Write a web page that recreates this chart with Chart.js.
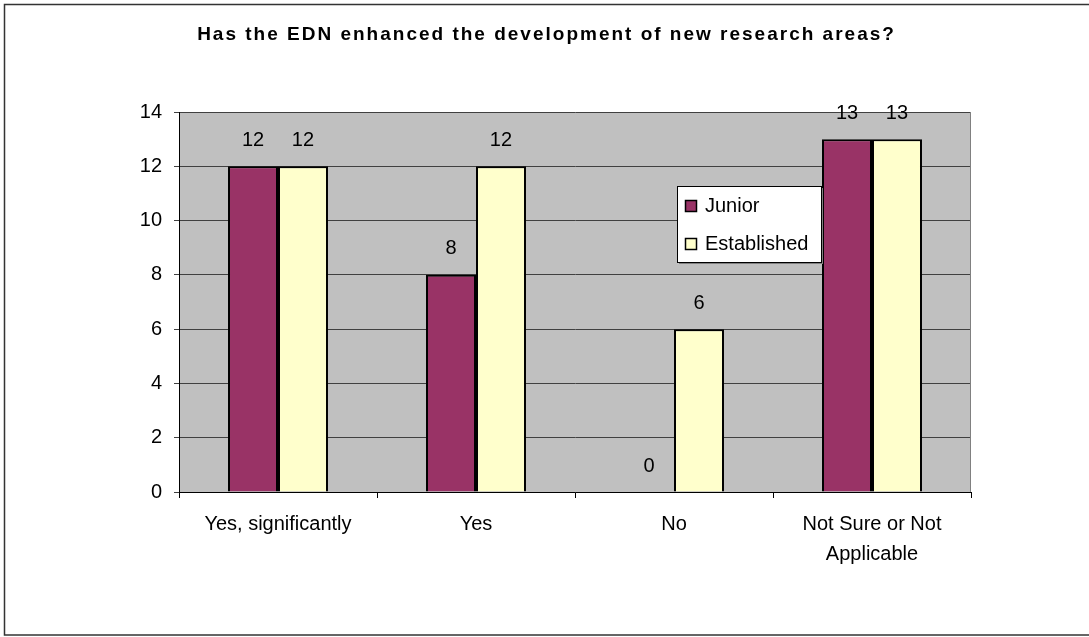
<!DOCTYPE html>
<html>
<head>
<meta charset="utf-8">
<script src="https://cdn.jsdelivr.net/npm/chart.js@4.4.1/dist/chart.umd.min.js"></script>
<style>
    html, body { margin: 0; padding: 0; background: #fff; }
    canvas { display: block; }
</style>
</head>
<body>
<canvas id="chart" width="1089" height="637"></canvas>
<script>
const CATEGORIES = ['Yes, significantly', 'Yes', 'No', ['Not Sure or Not', 'Applicable']];
const JUNIOR = [12, 8, 0, 13];
const ESTABLISHED = [12, 12, 6, 13];
const Y_TICKS = [0, 2, 4, 6, 8, 10, 12, 14];
const TITLE = 'Has the EDN enhanced the development of new research areas?';

const FONT = '"Liberation Sans", Arial, sans-serif';

const canvas = document.getElementById('chart');
const context = canvas.getContext('2d');
if ('letterSpacing' in context) context.letterSpacing = '0.5px';

// gray plot background + outer frame
const backgroundPlugin = {
    id: 'background',
    beforeDraw(chart) {
        const { ctx, chartArea: a } = chart;
        ctx.save();
        ctx.fillStyle = '#fff';
        ctx.fillRect(0, 0, chart.width, chart.height);
        ctx.strokeStyle = '#333';
        ctx.lineWidth = 1.5;
        ctx.strokeRect(4.5, 4.5, chart.width + 10, 630.5);
        ctx.fillStyle = '#c0c0c0';
        ctx.fillRect(a.left, a.top, a.right - a.left, a.bottom - a.top);
        ctx.restore();
    },
    afterDraw(chart) {
        const { ctx, chartArea: a } = chart;
        ctx.save();
        ctx.strokeStyle = '#808080';
        ctx.lineWidth = 1;
        ctx.beginPath();
        ctx.moveTo(a.right - 0.5, a.top);
        ctx.lineTo(a.right - 0.5, a.bottom);
        ctx.stroke();

        // title
        ctx.fillStyle = '#000';
        ctx.font = `bold 19px ${FONT}`;
        ctx.textAlign = 'center';
        ctx.textBaseline = 'middle';
        if ('letterSpacing' in ctx) ctx.letterSpacing = '2px';
        ctx.fillText(TITLE, chart.width / 2 + 2, 35);
        ctx.restore();
    },
};

// value labels above each bar
const valueLabelPlugin = {
    id: 'valueLabels',
    afterDatasetsDraw(chart) {
        const { ctx } = chart;
        ctx.save();
        ctx.fillStyle = '#000';
        ctx.font = `20px ${FONT}`;
        ctx.textAlign = 'center';
        ctx.textBaseline = 'middle';
        chart.data.datasets.forEach((ds, i) => {
            chart.getDatasetMeta(i).data.forEach((bar, j) => {
                ctx.fillText(String(ds.data[j]), bar.x, bar.y - 26);
            });
        });
        ctx.restore();
    },
};

// Excel-like boxed legend inside the plot
const boxLegendPlugin = {
    id: 'boxLegend',
    afterDraw(chart) {
        const { ctx } = chart;
        const x = 677, y = 186, w = 144, h = 76;
        ctx.save();
        ctx.fillStyle = '#808080';
        ctx.fillRect(x + 2, y + 2, w, h);
        ctx.fillStyle = '#fff';
        ctx.fillRect(x, y, w, h);
        ctx.strokeStyle = '#000';
        ctx.lineWidth = 1;
        ctx.strokeRect(x + 0.5, y + 0.5, w, h);
        ctx.font = `20px ${FONT}`;
        ctx.textBaseline = 'middle';
        chart.data.datasets.forEach((ds, i) => {
            const cy = y + 20 + i * 38;
            ctx.fillStyle = ds.backgroundColor;
            ctx.fillRect(x + 8, cy - 6, 12, 12);
            ctx.strokeStyle = '#000';
            ctx.lineWidth = 1.5;
            ctx.strokeRect(x + 8.5, cy - 5.5, 11, 11);
            ctx.fillStyle = '#000';
            ctx.fillText(ds.label, x + 28, cy);
        });
        ctx.restore();
    },
};

new Chart(canvas, {
    type: 'bar',
    data: {
        labels: CATEGORIES,
        datasets: [
            {
                label: 'Junior',
                data: JUNIOR,
                backgroundColor: '#993366',
                borderColor: '#000',
                borderWidth: 2,
            },
            {
                label: 'Established',
                data: ESTABLISHED,
                backgroundColor: '#ffffcc',
                borderColor: '#000',
                borderWidth: 2,
            },
        ],
    },
    options: {
        responsive: false,
        animation: false,
        devicePixelRatio: 1,
        layout: { padding: { top: 112, left: 0, right: 118, bottom: 0 } },
        datasets: { bar: { categoryPercentage: 0.505, barPercentage: 1 } },
        plugins: {
            legend: { display: false },
            title: { display: false },
            tooltip: { enabled: false },
        },
        scales: {
            x: {
                offset: true,
                afterFit: (scale) => { scale.height = 145; },
                grid: {
                    offset: true,
                    drawOnChartArea: false,
                    drawTicks: true,
                    tickLength: 6,
                    color: '#000',
                },
                border: { color: '#000', width: 1 },
                ticks: {
                    color: '#000',
                    padding: 11,
                    font: { family: FONT, size: 20, lineHeight: '30px' },
                    maxRotation: 0,
                    autoSkip: false,
                },
            },
            y: {
                min: 0,
                max: 14,
                afterFit: (scale) => { scale.width = 179; },
                afterBuildTicks: (scale) => { scale.ticks = Y_TICKS.map((v) => ({ value: v })); },
                grid: { color: '#404040', tickLength: 5, drawTicks: true },
                border: { color: '#000', width: 1 },
                ticks: {
                    color: '#000',
                    padding: 12,
                    font: { family: FONT, size: 20 },
                },
            },
        },
    },
    plugins: [backgroundPlugin, valueLabelPlugin, boxLegendPlugin],
});
</script>
</body>
</html>
